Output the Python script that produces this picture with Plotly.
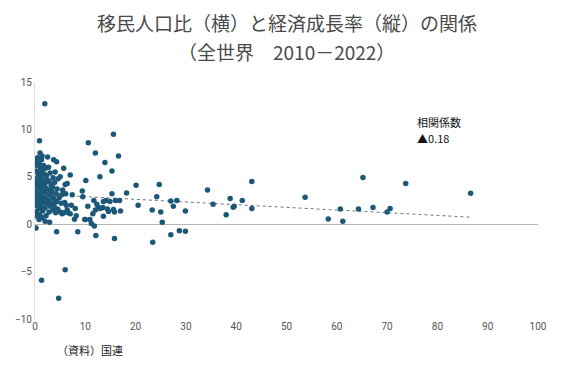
import plotly.graph_objects as go

# Migrant population share (%) and economic growth rate (%) per country, 2010-2022
migrant_share = [
    0.1, 0.2, 0.3, 0.1, 0.4, 0.2, 0.5, 0.1, 0.3, 0.6, 0.2, 0.4, 0.3, 0.5,
    0.8, 0.9, 0.7, 1.0, 0.8, 1.1, 0.9, 0.7, 1.0, 1.2, 0.9, 1.1, 0.8, 1.0, 1.3,
    1.4, 1.5, 1.3, 1.6, 1.4, 1.7, 1.5, 1.3, 1.6, 1.8, 1.5, 1.7, 1.4,
    2.0, 2.2, 2.0, 2.3, 2.1, 2.4, 2.2, 2.0, 2.5, 2.3, 2.1, 2.5, 2.7,
    2.9, 2.8, 3.0, 2.7, 3.1, 2.9, 3.2, 2.8, 3.0, 3.3, 3.4,
    3.6, 3.8, 3.7, 3.5, 3.9, 3.6, 3.7, 4.0, 4.1, 4.3, 4.2, 4.4, 4.3, 4.5,
    4.6, 4.8, 5.0, 5.0, 5.2, 5.3, 5.5, 5.7, 5.4, 5.7, 5.9, 6.1, 6.0, 6.4,
    6.4, 6.2, 6.6, 7.0, 7.2, 7.4, 7.0,
    0.2, 4.3, 6.0, 1.3, 4.7, 1.95, 0.9,
    8.0, 7.85, 8.2, 8.5, 9.4, 9.5, 10.0, 10.1, 10.6, 10.5,
    12.0, 16.6, 13.9, 15.3, 12.9, 20.1, 18.2, 15.3, 20.5, 11.7, 13.6, 14.1,
    14.9, 16.0, 16.8, 12.3, 12.6, 13.0, 13.5, 14.4, 14.6, 15.6, 15.8, 17.0,
    12.0, 11.5, 13.6, 10.9, 11.2, 11.8, 12.1, 15.8, 15.6, 9.9,
    24.7, 24.2, 23.3, 25.0, 25.3, 27.0, 27.5, 28.2, 29.9, 23.4, 27.0, 28.7,
    29.9, 34.3, 35.4, 38.0, 38.8, 39.4, 39.6, 41.2, 43.1, 43.1, 53.7,
    58.3, 60.7, 61.2, 64.3, 65.2, 67.2, 70.0, 70.6, 73.7, 86.6,
]
growth_rate = [
    0.9, 1.3, 2.0, 2.5, 3.0, 3.5, 4.0, 4.4, 4.8, 5.3, 5.6, 6.2, 6.6, 7.0,
    0.5, 1.0, 1.6, 2.2, 2.7, 3.2, 3.7, 4.2, 4.6, 5.0, 5.4, 5.9, 6.4, 7.5, 6.8,
    0.7, 1.4, 1.9, 2.4, 2.9, 3.4, 3.9, 4.3, 4.7, 5.3, 5.7, 6.2, 7.2,
    0.3, 0.9, 1.7, 2.2, 2.8, 3.3, 3.8, 4.3, 4.6, 5.1, 5.9, 7.1, 6.0,
    0.2, 1.3, 1.9, 2.5, 3.0, 3.6, 4.1, 4.5, 5.4, 2.2, 3.4,
    1.5, 2.0, 2.7, 3.9, 4.4, 4.9, 6.8, 5.5, 1.2, 2.4, 3.2, 3.7, 6.6, 1.6,
    4.8, 2.8, 1.3, 5.0, 2.2, 3.1, 3.6, 5.9, 1.1, 1.2, 2.3, 3.2, 4.2, 4.3,
    1.5, 2.0, 1.2, 5.2, 2.0, 3.1, 1.1,
    -0.4, -0.8, -4.8, -5.9, -7.8, 12.7, 8.8,
    1.65, 0.53, 0.9, -0.8, 3.5, 2.9, 0.5, 4.6, 8.6, 1.9,
    7.5, 7.2, 6.5, 5.6, 5.0, 4.1, 3.3, 3.2, 2.0, 2.5, 2.4, 2.5,
    2.4, 2.5, 2.5, 2.1, 1.75, 1.65, 1.75, 1.6, 1.35, 1.55, 1.3, 1.4,
    1.5, 1.1, 0.85, 0.5, 0.08, -0.2, -1.2, -1.5, 9.5, 0.5,
    4.2, 2.9, 1.5, 1.3, 0.2, 2.45, 1.9, 2.5, 1.4, -1.9, -1.1, -0.7,
    -0.75, 3.6, 2.1, 1.0, 2.7, 1.8, 1.9, 2.5, 4.5, 1.65, 2.85,
    0.56, 1.6, 0.3, 1.6, 4.93, 1.75, 1.3, 1.65, 4.3, 3.27,
]

# Linear trend line endpoints
trend_x = [0.0, 86.6]
trend_y = [3.19, 0.74]

x_ticks = [0, 10, 20, 30, 40, 50, 60, 70, 80, 90, 100]
y_ticks = [-10, -5, 0, 5, 10, 15]

title_lines = ["移民人口比（横）と経済成長率（縦）の関係", "（全世界　2010－2022）"]
corr_lines = ["相関係数", "▲0.18"]

fig = go.Figure()
fig.add_trace(go.Scatter(
    x=trend_x, y=trend_y, mode="lines",
    line=dict(color="#6b7680", width=1, dash="dot"),
    hoverinfo="skip", showlegend=False,
))
fig.add_trace(go.Scatter(
    x=migrant_share, y=growth_rate, mode="markers",
    marker=dict(color="#1c5878", size=5.5, line=dict(width=0)),
    showlegend=False,
))

# Title lines (placed above the plot area)
fig.add_annotation(
    x=0.5, y=1.253, xref="paper", yref="paper", text=title_lines[0],
    showarrow=False, xanchor="center", yanchor="middle",
    font=dict(size=19, color="#4a4a4a", family="Noto Sans CJK JP"),
)
fig.add_annotation(
    x=0.5, y=1.127, xref="paper", yref="paper", text=title_lines[1],
    showarrow=False, xanchor="center", yanchor="middle",
    font=dict(size=19, color="#4a4a4a", family="Noto Sans CJK JP"),
)

# Correlation coefficient label
fig.add_annotation(
    x=75.7, y=10.8, xref="x", yref="y", text=corr_lines[0],
    showarrow=False, xanchor="left", yanchor="middle", borderpad=0,
    font=dict(size=11, color="#111111", family="Noto Sans CJK JP"),
)
fig.add_annotation(
    x=75.7, y=9.1, xref="x", yref="y", text=corr_lines[1],
    showarrow=False, xanchor="left", yanchor="middle", borderpad=0,
    font=dict(size=11, color="#111111", family="Noto Sans CJK JP"),
)

fig.add_annotation(
    x=0.04, y=-0.13, xref="paper", yref="paper",
    text="（資料）国連", showarrow=False,
    xanchor="left", yanchor="middle",
    font=dict(size=11, color="#222222", family="Noto Sans CJK JP"),
)

fig.update_layout(
    width=568, height=372,
    margin=dict(l=35, r=30, t=82, b=53),
    paper_bgcolor="white", plot_bgcolor="white",
    font=dict(family="Roboto", color="#555555"),
    xaxis=dict(
        range=[0, 100], tickvals=x_ticks, showgrid=False, zeroline=False,
        showline=False, ticks="", tickfont=dict(size=10, color="#555555"),
        automargin=False, fixedrange=True,
    ),
    yaxis=dict(
        range=[-10, 15], tickvals=y_ticks, showgrid=False,
        zeroline=True, zerolinecolor="#b5b5b5", zerolinewidth=1,
        showline=True, linecolor="#dddddd", linewidth=1,
        ticks="", tickfont=dict(size=10, color="#555555"),
        automargin=False, fixedrange=True,
    ),
)

fig.write_html(
    "out.html",
    config={"displayModeBar": False},
    post_script="document.body.style.margin='0';document.body.style.padding='0';",
)
